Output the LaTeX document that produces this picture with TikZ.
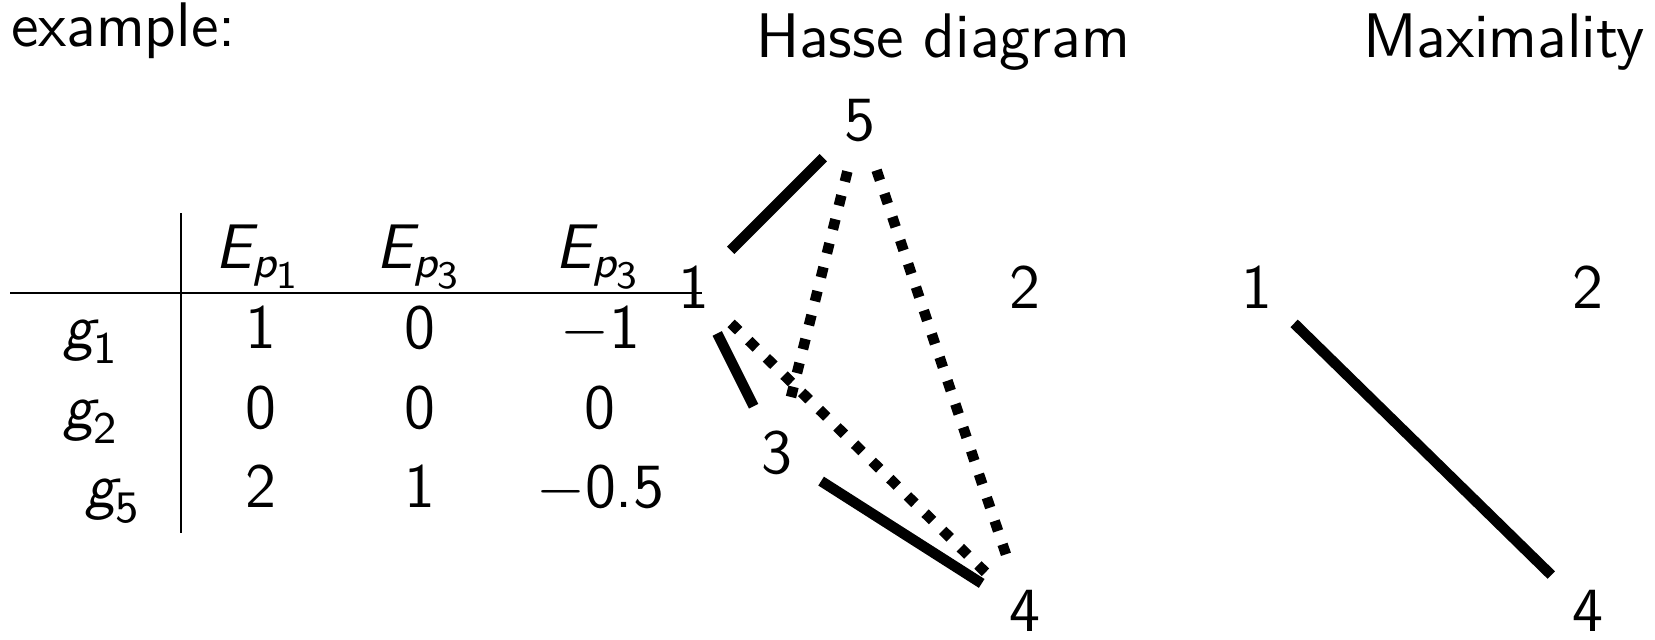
\documentclass[tikz,border=0pt]{standalone}
\usepackage{amsmath}
\renewcommand{\familydefault}{\sfdefault}
\DeclareMathSizes{12}{12}{8.6}{7.4}
\usetikzlibrary{positioning}
\newcommand{\sv}[2]{\textit{#1}_{\text{#2}}}
\tikzset{
  hv/.style={circle},
  soledge/.style={line width=2pt},
  dotedge/.style={line width=2pt,dash pattern=on 2pt off 2.7pt},
  cell/.style={inner sep=0pt,anchor=base},
  ttl/.style={inner sep=0pt,anchor=base west},
}
\begin{document}
\begin{tikzpicture}[x=0.1905pt,y=-0.1905pt,font=\fontsize{12}{14.4}\selectfont]
\useasboundingbox (0,0) rectangle (1655,639);
% titles
\node[ttl] (intro) at (10,46) {example:};
\node[ttl] (hasse) at (755,57) {Hasse diagram};
\node[ttl] (maxi) at (1362,57) {Maximality};
% table
\draw[line width=0.4pt] (10,293) -- (702,293);
\draw[line width=0.4pt] (181,213) -- (181,533);
\foreach \nm/\cx/\txt in {e1/259/{$\textit{E}_{\sv{p}{1}}$},e2/420/{$\textit{E}_{\sv{p}{3}}$},e3/599/{$\textit{E}_{\sv{p}{3}}$}}
  \node[cell] (\nm) at (\cx,268) {\txt};
\node[ttl] (g1) at (62,348) {$\sv{g}{1}$};
\node[ttl] (g2) at (62,428) {$\sv{g}{2}$};
\node[ttl] (g5) at (84,507) {$\sv{g}{5}$};
\foreach \r/\y/\a/\b/\c in {1/348/1/0/{$-$1},2/428/0/0/0,5/507/2/1/{$-$0.5}}{
  \node[cell] (v\r a) at (261,\y) {\a};
  \node[cell] (v\r b) at (420,\y) {\b};
  \node[cell] (v\r c) at (600,\y) {\c};
}
% Hasse diagram
\node[hv] (h5) at (860,121) {5};
\node[hv] (h1) at (694,287) {1};
\node[hv] (h2) at (1025,287) {2};
\node[hv] (h3) at (777,453) {3};
\node[hv] (h4) at (1025,611) {4};
\draw[soledge] (h1) -- (h5);
\draw[soledge] (h1) -- (h3);
\draw[soledge] (h3) -- (h4);
\draw[dotedge] (h5) -- (h3);
\draw[dotedge] (h5) -- (h4);
\draw[dotedge] (h1) -- (h4);
% maximality
\node[hv] (m1) at (1257,287) {1};
\node[hv] (m2) at (1588,287) {2};
\node[hv] (m4) at (1588,611) {4};
\draw[soledge] (m1) -- (m4);
\end{tikzpicture}
\end{document}
